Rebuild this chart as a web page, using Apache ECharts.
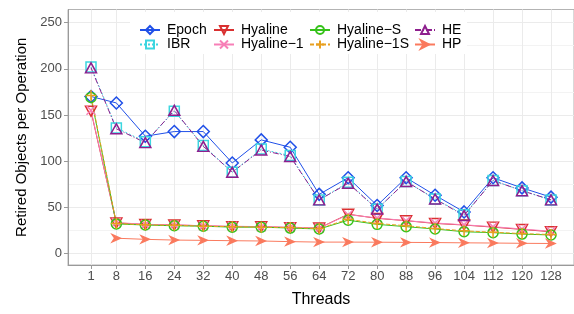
<!DOCTYPE html>
<html>
<head>
<meta charset="utf-8">
<script src="https://cdn.jsdelivr.net/npm/echarts@6/dist/echarts.min.js"></script>
<style>
  html, body { margin: 0; padding: 0; background: #fff; }
</style>
</head>
<body>
<div id="chart" style="width: 574px; height: 314px"></div>
<script>
const threads = [1, 8, 16, 24, 32, 40, 48, 56, 64, 72, 80, 88, 96, 104, 112, 120, 128];
const yTicks = [0, 50, 100, 150, 200, 250];
const yMinorTicks = [25, 75, 125, 175, 225];

const epoch = [170, 163, 127, 132, 132, 98, 123, 115, 64, 82, 52, 82, 63, 45, 82, 71, 61];
const ibr = [202, 136, 121, 154, 117, 88, 113, 106, 58, 77, 48, 78, 59, 42, 79, 68, 58];
const hyaline = [154, 33, 31.5, 30.8, 30, 29, 29, 28, 27.5, 42.5, 38, 35.5, 32.5, 30.8, 28.5, 26, 23.5];
const hyaline1 = [155, 33.5, 31.5, 31, 30, 29.5, 29, 28.5, 27.5, 42, 38.5, 35.5, 33, 31, 29, 26.5, 24];
const hyalineS = [169, 32, 30.8, 30, 29.5, 28.5, 28.5, 27.5, 26.5, 36, 31.5, 29, 26.5, 23.5, 22.5, 21, 20];
const hyaline1S = [171, 32.5, 31, 30.5, 29.5, 29, 28.5, 28, 27, 37, 32.5, 30, 27, 24.5, 23, 21.5, 20.5];
const he = [201, 135, 120, 155, 116, 88, 112, 105, 58, 76, 48, 78, 59, 41, 79, 68, 58];
const hp = [null, 16.5, 15.3, 14.5, 14.2, 13.8, 13.5, 12.8, 12.3, 12.3, 12.2, 12, 11.8, 11.5, 11.3, 11, 10.8];

const FONT = "Liberation Sans, Arial, sans-serif";

const chart = echarts.init(document.getElementById("chart"));

// pair values with thread counts for the numeric x axis
function pts(vals) {
  return threads.map((t, i) => [t, vals[i]]).filter((p) => p[1] != null);
}

function makeSeries(name, vals, color, symbol, size, dash) {
  return {
    name: name,
    type: "line",
    data: pts(vals),
    symbol: symbol,
    symbolSize: size,
    showSymbol: true,
    lineStyle: { color: color, width: 1, type: dash || "solid" },
    itemStyle: { color: "rgba(0,0,0,0)", borderColor: color, borderWidth: 1.5 },
    emphasis: { disabled: true },
    animation: false,
  };
}

const triDown = "path://M0,0 L10,0 L5,9 Z";
const cross = "path://M0,0 L10,10 M10,0 L0,10";
const plus = "path://M5,0 L5,10 M0,5 L10,5";
const arrowHead = "path://M0,0 L10,5 L0,10 L3,5 Z";

const series = [
  makeSeries("Epoch", epoch, "#2050e8", "diamond", [12, 12]),
  makeSeries("IBR", ibr, "#3cd6e0", "rect", [10, 10], [2, 2]),
  makeSeries("Hyaline", hyaline, "#d93030", triDown, [11, 10]),
  makeSeries("Hyaline\u22121", hyaline1, "#f77fb7", cross, [9, 9]),
  makeSeries("Hyaline\u2212S", hyalineS, "#35c21a", "circle", [10, 10]),
  makeSeries("Hyaline\u22121S", hyaline1S, "#e8a020", plus, [11, 11], [4, 2]),
  makeSeries("HE", he, "#8e1f8e", "triangle", [11, 10], [6, 2, 1, 2]),
  makeSeries("HP", hp, "#fa7a5e", arrowHead, [8, 7]),
];
// the HP arrow heads are solid
series[7].itemStyle.color = "#fa7a5e";

function legendCol(left, names) {
  return {
    orient: "vertical",
    left: left,
    top: 23,
    padding: 0,
    itemWidth: 20,
    itemHeight: 10,
    itemGap: 0.5,
    data: names,
    selectedMode: false,
    textStyle: { fontFamily: FONT, fontSize: 14, color: "#000", padding: [0, 0, 0, 2] },
  };
}

const option = {
  animation: false,
  graphic: [
    {
      type: "rect",
      z: 3,
      shape: { x: 130, y: 12, width: 337, height: 42 },
      style: { fill: "#fff" },
    },
  ],
  legend: [
    legendCol(139, ["Epoch", "IBR"]),
    legendCol(213, ["Hyaline", "Hyaline\u22121"]),
    legendCol(309, ["Hyaline\u2212S", "Hyaline\u22121S"]),
    legendCol(414, ["HE", "HP"]),
  ],
  grid: {
    left: 68,
    right: -3,
    top: 9.5,
    bottom: 49,
    show: true,
    borderColor: "#b3b3b3",
    borderWidth: 1,
  },
  xAxis: {
    type: "value",
    min: -5.35,
    max: 134.35,
    name: "Threads",
    nameLocation: "middle",
    nameGap: 27,
    nameTextStyle: { fontFamily: FONT, fontSize: 16, color: "#000" },
    axisLine: { onZero: false, lineStyle: { color: "#9a9a9a", width: 1 } },
    axisTick: { length: 4, customValues: threads, lineStyle: { color: "#9a9a9a" } },
    axisLabel: { customValues: threads, margin: 5, fontFamily: FONT, fontSize: 13, color: "#4d4d4d" },
    splitLine: { show: true, lineStyle: { color: "#ebebeb", width: 1 } },
  },
  yAxis: [
    {
      type: "value",
      min: -12.5,
      max: 264.2,
      name: "Retired Objects per Operation",
      nameLocation: "middle",
      nameGap: 38,
      nameTextStyle: { fontFamily: FONT, fontSize: 15, color: "#000" },
      axisLine: { show: true, onZero: false, lineStyle: { color: "#9a9a9a", width: 1 } },
      axisTick: { show: true, length: 4, customValues: yTicks, lineStyle: { color: "#9a9a9a" } },
      axisLabel: { customValues: yTicks, margin: 6, fontFamily: FONT, fontSize: 13, color: "#4d4d4d" },
      splitLine: { show: true, lineStyle: { color: "#ebebeb", width: 1 } },
    },
    {
      type: "value",
      min: -12.5,
      max: 264.2,
      position: "left",
      axisLine: { show: false },
      axisTick: { show: false, customValues: yMinorTicks },
      axisLabel: { show: false, customValues: yMinorTicks },
      splitLine: { show: true, lineStyle: { color: "#f3f3f3", width: 1 } },
    },
  ],
  series: series,
};

chart.setOption(option);
</script>
</body>
</html>
